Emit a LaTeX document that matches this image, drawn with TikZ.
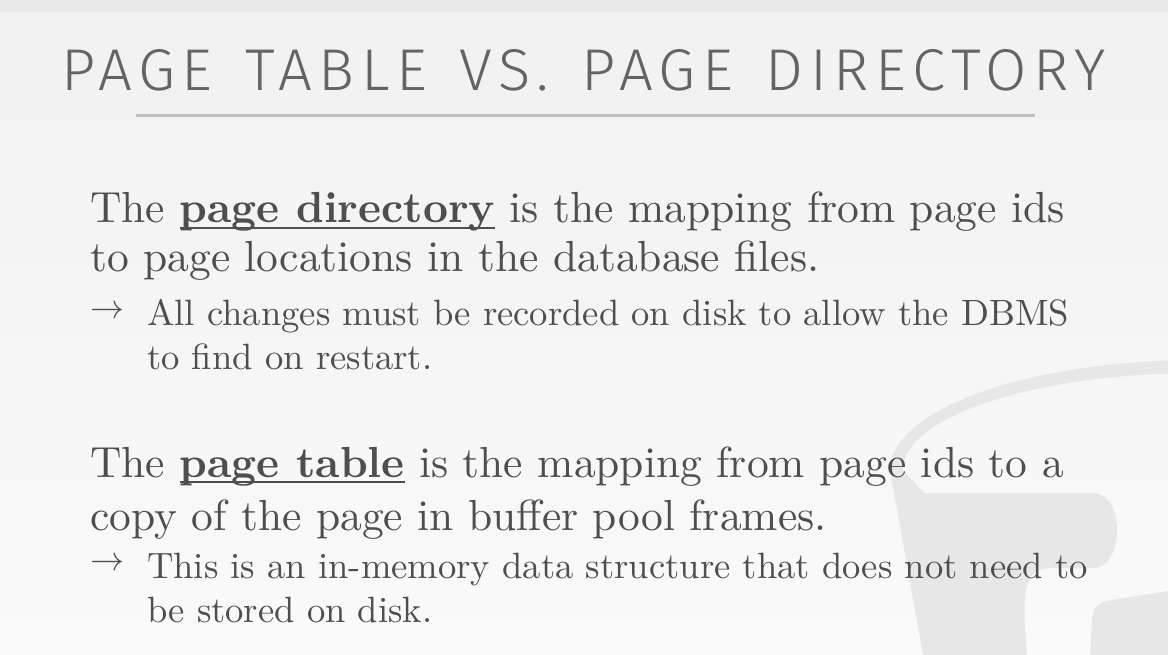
\documentclass[tikz,border=0pt]{standalone}
\usepackage{fontspec}
\usepackage{graphicx}
\setmainfont{lmroman10-regular.otf}[BoldFont=lmroman10-bold.otf]
\newfontfamily\titlefont{Fira Sans Light}[LetterSpace=11, WordSpace=1.4]
\definecolor{txt}{HTML}{4E4E4E}
\definecolor{ttl}{HTML}{646464}
\definecolor{logo}{HTML}{E7E7E7}
\definecolor{rulec}{HTML}{BFBFBF}
\newsavebox\ulbox
\newcommand\ulword[1]{\sbox\ulbox{#1}\rlap{\rule[-0.14em]{\wd\ulbox}{0.05em}}\usebox\ulbox}
\newcommand\arr{\resizebox{34pt}{!}{$\rightarrow$}}
\tikzset{
  mainl/.style={anchor=base west, inner sep=0pt, text=txt, font=\fontsize{43.5}{43.5}\selectfont},
  subl/.style={anchor=base west, inner sep=0pt, text=txt, font=\fontsize{36.6}{36.6}\selectfont},
  titl/.style={anchor=base west, inner sep=0pt, text=ttl},
}
\begin{document}
\begin{tikzpicture}[x=1pt,y=-1pt]
\useasboundingbox (0,0) rectangle (1168,655);
% background
\fill[color={rgb,255:red,233;green,233;blue,233}] (0,0) rectangle (1168,13);
\shade[top color={rgb,255:red,241;green,241;blue,241}, bottom color={rgb,255:red,250;green,250;blue,250}] (0,13) rectangle (1168,655);
% faint logo
\begin{scope}
\clip (0,0) rectangle (1168,655);
\fill[logo, even odd rule] (890,470) arc[start angle=180, end angle=0, x radius=310, y radius=-110]
   -- (1497,470) arc[start angle=0, end angle=180, x radius=297, y radius=-97] -- cycle;
\fill[logo] (890,470) -- (923,655) -- (1027,655)
   .. controls (1023,600) and (1020,569) .. (1050,568) -- (1093,568)
   .. controls (1125,568) and (1125,493) .. (1093,493) -- (924,493) -- (903,470) -- cycle;
\fill[logo] (1090,655) -- (1092,620) .. controls (1093,606) and (1099,602) .. (1112,600)
   -- (1168,591) -- (1168,655) -- cycle;
\end{scope}
% title
\node[titl] (title) at (61,91) {\resizebox{1044pt}{41pt}{\titlefont PAGE TABLE VS. PAGE DIRECTORY}};
\coordinate (rl) at (136,115.5);
\coordinate (rr) at (1035,115.5);
\draw[rulec, line width=3pt] (rl) -- (rr);
% body
\node[mainl] (l1) at (90,223) {The \ulword{\bfseries page directory} is the mapping from page ids};
\node[mainl] (l2) at (90,272) {to page locations in the database files.};
\node[subl] (a1) at (90,318) {\arr};
\node[subl] (l3) at (147,326) {All changes must be recorded on disk to allow the DBMS};
\node[subl] (l4) at (147,369) {to find on restart.};
\node[mainl] (l5) at (90,477) {The \ulword{\bfseries page table} is the mapping from page ids to a};
\node[mainl] (l6) at (90,530) {copy of the page in buffer pool frames.};
\node[subl] (a2) at (90,570) {\arr};
\node[subl] (l7) at (147,578) {This is an in-memory data structure that does not need to};
\node[subl] (l8) at (147,622) {be stored on disk.};
\end{tikzpicture}
\end{document}
